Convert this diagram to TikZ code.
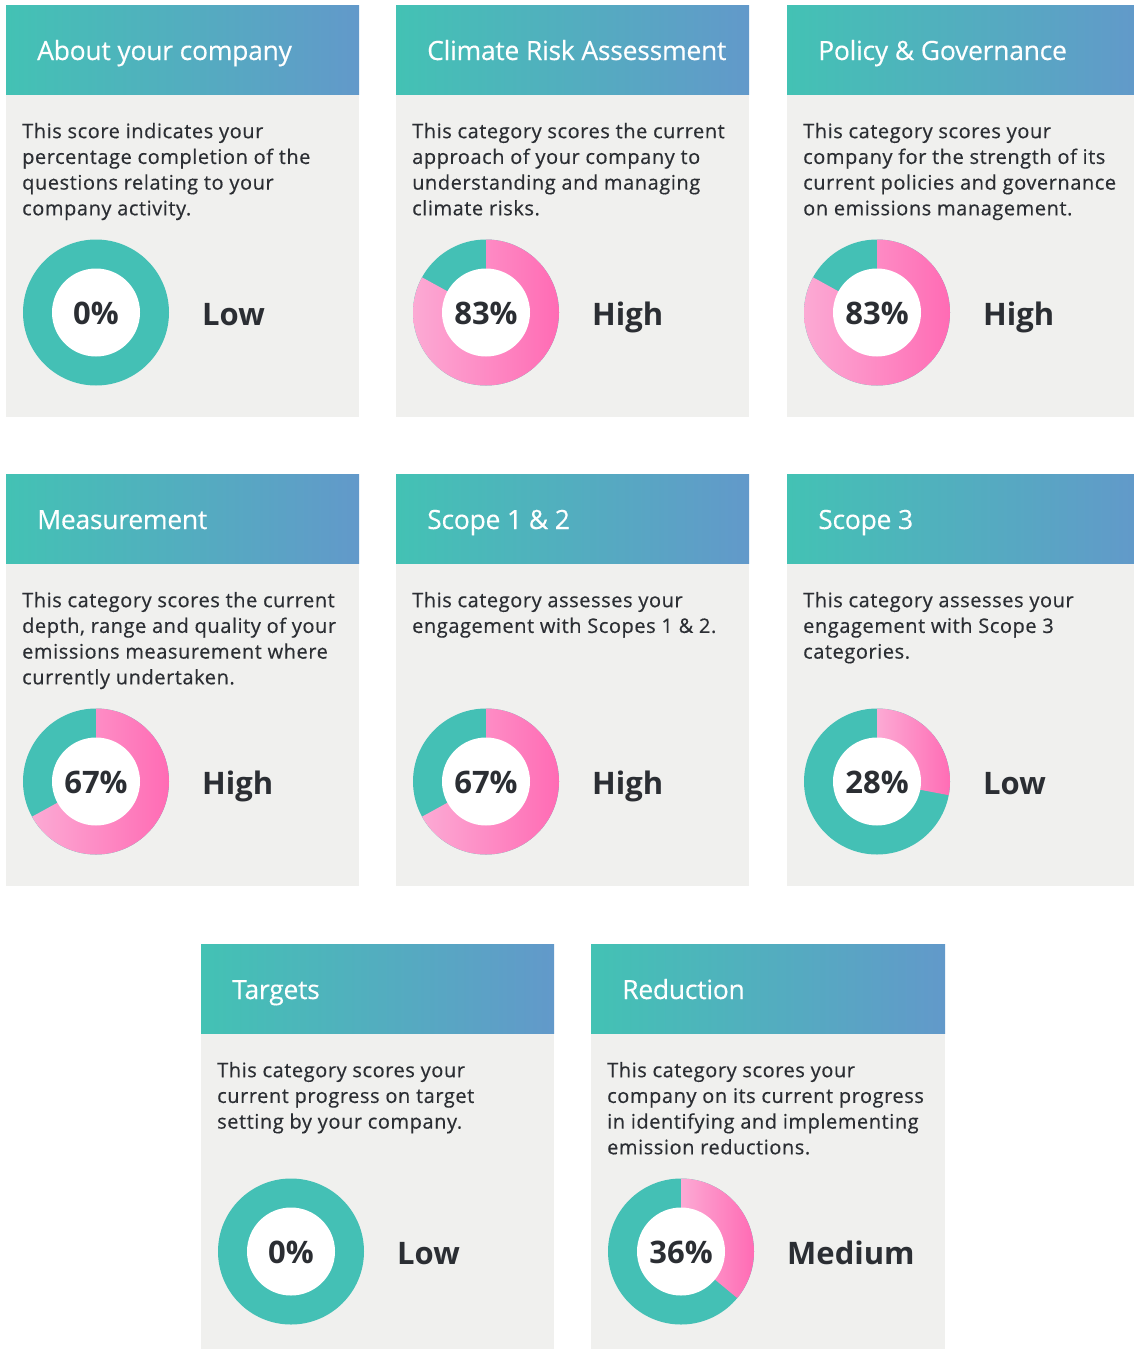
\documentclass[tikz,border=0pt]{standalone}
\usepackage{fontspec}
\setmainfont{Open Sans}
\newfontfamily\bodyfont[LetterSpace=2.8,FakeBold=0.45]{Open Sans}
\newfontfamily\hdrfont[LetterSpace=-1.0,FakeBold=0.3]{Open Sans}
\definecolor{hdrL}{HTML}{43C2B4}
\definecolor{hdrR}{HTML}{6299CA}
\definecolor{cardbg}{HTML}{F0F0EE}
\definecolor{teal}{HTML}{44C0B5}
\definecolor{pinkL}{HTML}{FCAAD4}
\definecolor{pinkR}{HTML}{FF6BB4}
\definecolor{ink}{HTML}{2B2E33}
\tikzset{
  hdrtext/.style={text=white, inner sep=0pt, font=\hdrfont\fontsize{26.5}{30}\selectfont},
  bodytext/.style={text=ink, inner sep=0pt, align=left, font=\bodyfont\fontsize{20}{25.7}\selectfont},
  pcttext/.style={text=ink, inner sep=0pt, font=\bfseries\fontsize{31}{36}\selectfont},
  lbltext/.style={text=ink, inner sep=0pt, font=\bfseries\fontsize{31}{36}\selectfont},
}
% #1 id, #2 x, #3 y, #4 width, #5 title, #6 body, #7 pct text, #8 pink angle, #9 label
\newcommand\scorecard[9]{%
  \fill[cardbg] (#2,-#3-89) rectangle (#2+#4,-#3-412);
  \shade[left color=hdrL,right color=hdrR] (#2,-#3) rectangle (#2+#4,-#3-89);
  \node[hdrtext, anchor=base west] (#1-title) at (#2+31,-#3-55) {#5};
  \node[bodytext, anchor=north west] (#1-body) at (#2+16,-#3-113) {\rule{0pt}{20pt}#6};
  \coordinate (#1-c) at (#2+90,-#3-307.5);
  \fill[teal] (#1-c) circle[radius=73pt];
  \ifdim #8pt>0pt
    \shade[left color=pinkL,right color=pinkR] (#1-c) -- ++(90:73pt) arc[start angle=90,end angle=90-#8,radius=73pt] -- cycle;
  \fi
  \fill[white] (#1-c) circle[radius=44pt];
  \node[pcttext, anchor=base] (#1-pct) at (#2+90,-#3-319) {#7};
  \node[lbltext, anchor=base west] (#1-lbl) at (#2+196,-#3-320.5) {#9};
}
\begin{document}
\begin{tikzpicture}[x=1pt,y=1pt]
\useasboundingbox (0,0) rectangle (1134,-1349);
\fill[white] (0,0) rectangle (1134,-1349);
\clip (0,0) rectangle (1134,-1349);
\scorecard{about}{6}{5}{353}{About your company}{This score indicates your\\percentage completion of the\\questions relating to your\\company activity.}{0\%}{0}{Low}
\scorecard{risk}{396}{5}{353}{Climate Risk Assessment}{This category scores the current\\approach of your company to\\understanding and managing\\climate risks.}{83\%}{298.8}{High}
\scorecard{policy}{787}{5}{353}{Policy \& Governance}{This category scores your\\company for the strength of its\\current policies and governance\\on emissions management.}{83\%}{298.8}{High}
\scorecard{meas}{6}{474}{353}{Measurement}{This category scores the current\\depth, range and quality of your\\emissions measurement where\\currently undertaken.}{67\%}{241.2}{High}
\scorecard{scope12}{396}{474}{353}{Scope 1 \& 2}{This category assesses your\\engagement with Scopes 1 \& 2.}{67\%}{241.2}{High}
\scorecard{scope3}{787}{474}{353}{Scope 3}{This category assesses your\\engagement with Scope 3\\categories.}{28\%}{100.8}{Low}
\scorecard{targets}{201}{944}{353}{Targets}{This category scores your\\current progress on target\\setting by your company.}{0\%}{0}{Low}
\scorecard{reduct}{591}{944}{354}{Reduction}{This category scores your\\company on its current progress\\in identifying and implementing\\emission reductions.}{36\%}{129.6}{Medium}
\end{tikzpicture}
\end{document}
